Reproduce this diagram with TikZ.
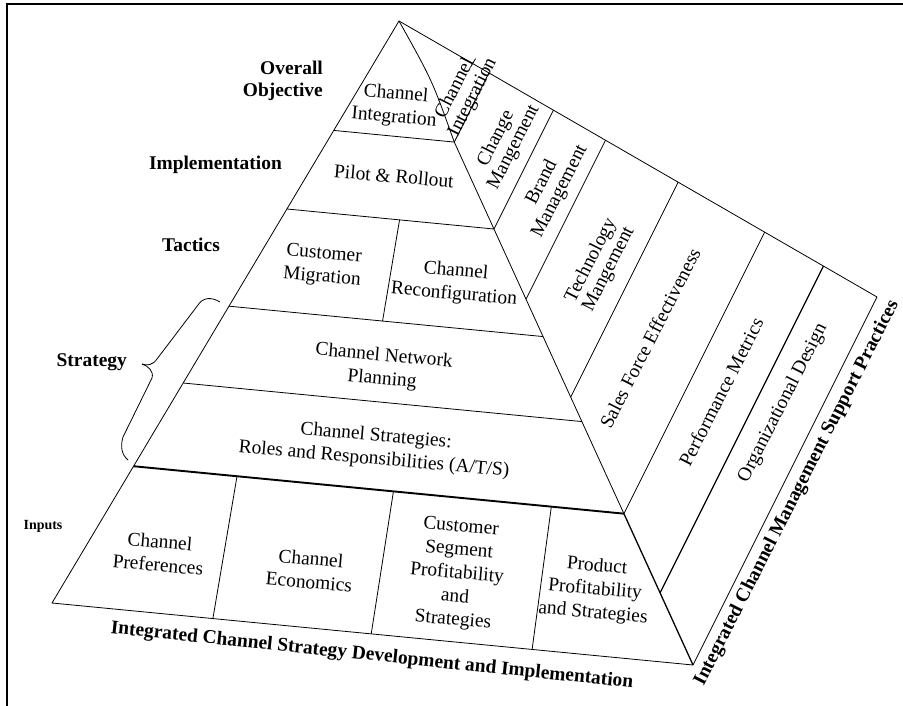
\documentclass[tikz,border=0pt]{standalone}
\usepackage{fontspec}
\setmainfont{Liberation Serif}
\usetikzlibrary{calc}
\begin{document}
\begin{tikzpicture}[x=1bp,y=-1bp,
  edge/.style={line width=0.8bp, line join=round},
  heavy/.style={line width=1.9bp},
  midline/.style={line width=1.3bp},
  facetext/.style={font=\fontsize{19.5}{23.5}\selectfont, align=center, inner sep=0pt, rotate=-5},
  sidetext/.style={font=\fontsize{19.5}{20}\selectfont, align=center, inner sep=0pt, rotate=63},
  level/.style={font=\bfseries\fontsize{19.5}{21.5}\selectfont, align=right, inner sep=0pt, anchor=east},
  caption/.style={font=\bfseries\fontsize{19.5}{22}\selectfont, inner sep=0pt}
]
\useasboundingbox (0,0) rectangle (903,706);

% frame
\coordinate (frameBL) at (7,706);
\coordinate (frameTL) at (7,4);
\coordinate (frameTR) at (903,4);
\draw[line width=2bp] (frameBL) -- (frameTL) -- (frameTR);

% pyramid corners
\coordinate (A)  at (399,21);
\coordinate (BL) at (52,603);
\coordinate (BR) at (693,665);
\coordinate (TR) at (877,297);

% band boundaries on the front face
\foreach \i/\f in {1/0.188,2/0.323,3/0.49,4/0.622,5/0.765}{
  \coordinate (L\i) at ($(A)!\f!(BL)$);
  \coordinate (R\i) at ($(A)!\f!(BR)$);
}
% strip boundaries on the side face
\foreach \i/\f in {1/0.188,2/0.323,3/0.432,4/0.584,5/0.765,6/0.888}{
  \coordinate (T\i) at ($(A)!\f!(TR)$);
  \coordinate (E\i) at ($(A)!\f!(BR)$);
}

% outline
\draw[edge] (L5) -- (A) -- (TR) -- (BR);
\draw[edge] (L5) -- (BL) -- (BR);
\draw[edge] (A) .. controls (432,80) .. (R1);
\draw[edge] (R1) -- (R5);
\draw[midline] (R5) -- (BR);

% front bands
\draw[edge] (L1) -- (R1);
\draw[edge] (L2) -- (R2);
\draw[edge] (L3) -- (R3);
\draw[edge] (L4) -- (R4);
\draw[heavy] (L5) -- (R5);

% tactics split
\draw[edge] ($(L2)!0.544!(R2)$) -- ($(L3)!0.489!(R3)$);
% input splits
\draw[edge] ($(L5)!0.211!(R5)$) -- ($(BL)!0.251!(BR)$);
\draw[edge] ($(L5)!0.530!(R5)$) -- ($(BL)!0.498!(BR)$);
\draw[edge] ($(L5)!0.852!(R5)$) -- ($(BL)!0.749!(BR)$);

% side strips
\foreach \i in {1,...,5}{ \draw[edge] (T\i) -- (E\i); }
\draw[midline] (T6) -- (E6);
\draw[edge] (475.5,58.7) -- (470.5,67.3);

% strategy brace
\coordinate (braceTop) at (220,302);
\coordinate (braceTip) at (142,364);
\coordinate (braceBot) at (128,460);
\draw[edge] (braceTop) .. controls (212,297) and (203,297) .. (198,305)
  -- (157,359) .. controls (153,365) and (147,366) .. (braceTip);
\draw[edge] (braceTip) .. controls (148,366) and (154,371) .. (152,378)
  -- (123,437) .. controls (120,447) and (122,455) .. (braceBot);

% level labels
\node[level] (lvObj)   at (323,81)  {Overall\\Objective};
\node[level] (lvImpl)  at (282,165) {Implementation};
\node[level] (lvTact)  at (220,245) {Tactics};
\node[level] (lvStrat) at (127,362) {Strategy};
\node[font=\bfseries\fontsize{14}{16}\selectfont, inner sep=0pt] (lvIn) at (43,526) {Inputs};

% front face texts
\node[facetext] (tObj)    at (395,106) {Channel\\Integration};
\node[facetext] (tPilot)  at (394,176) {Pilot \& Rollout};
\node[facetext] (tMigr)   at (323,266) {Customer\\Migration};
\node[facetext] (tReconf) at (455,283) {Channel\\Reconfiguration};
\node[facetext] (tNet)    at (383,368) {Channel Network\\Planning};
\node[facetext] (tRoles)  at (375,448) {Channel Strategies:\\Roles and Responsibilities (A/T/S)};
\node[facetext] (tPref)   at (159,553) {Channel\\Preferences};
\node[facetext] (tEcon)   at (310,570) {Channel\\Economics};
\node[facetext] (tSeg)    at (457,574) {Customer\\Segment\\Profitability\\and\\Strategies};
\node[facetext] (tProd)   at (595,590) {Product\\Profitability\\and Strategies};

% side face texts
\node[sidetext] (sInt)    at (464,93)  {Channel\\Integration};
\node[sidetext] (sChange) at (505,143) {Change\\Mangement};
\node[sidetext] (sBrand)  at (551,187) {Brand\\Management};
\node[sidetext] (sTech)   at (600,265) {Technology\\Mangement};
\node[sidetext] (sSales)  at (650,338) {Sales Force Effectiveness};
\node[sidetext] (sPerf)   at (721,392) {Performance Metrics};
\node[sidetext] (sOrg)    at (783,403) {Organizational Design};

% captions
\node[caption, rotate=-6] (capFront) at (372,656) {Integrated Channel Strategy Development and Implementation};
\node[caption, rotate=63] (capSide)  at (797,493) {Integrated Channel Management Support Practices};
\end{tikzpicture}
\end{document}
